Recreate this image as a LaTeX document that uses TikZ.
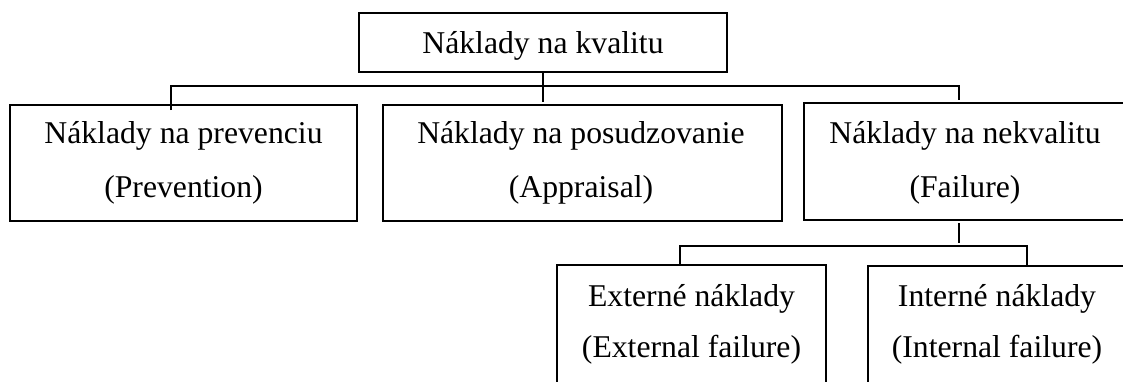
\documentclass[tikz,border=0pt]{standalone}
\usepackage{fontspec}
\setmainfont{Liberation Serif}
\begin{document}
\begin{tikzpicture}[x=1pt,y=-1pt,
  box/.style={draw=black, line width=1.8pt, rectangle, inner sep=0pt, outer sep=0pt},
  lbl/.style={anchor=base, inner sep=0pt, font=\fontsize{31.7}{38}\selectfont},
  conn/.style={draw=black, line width=1.8pt}]
\useasboundingbox (0,0) rectangle (1123,381);
% boxes
\node[box, minimum width=368pt, minimum height=59pt] (T) at (543,42.5) {};
\node[box, minimum width=347pt, minimum height=116pt] (B1) at (183.5,163) {};
\node[box, minimum width=399pt, minimum height=116pt] (B2) at (582.5,163) {};
\node[box, minimum width=323pt, minimum height=117pt] (B3) at (965.5,161.5) {};
\node[box, minimum width=269pt, minimum height=155pt] (B4) at (691.5,342.5) {};
\node[box, minimum width=259pt, minimum height=154pt] (B5) at (997.5,343) {};
% texts
\node[lbl] (tT) at (543,53) {Náklady na kvalitu};
\node[lbl] (t1a) at (183.5,143) {Náklady na prevenciu};
\node[lbl] (t1b) at (183.5,197) {(Prevention)};
\node[lbl] (t2a) at (581,143) {Náklady na posudzovanie};
\node[lbl] (t2b) at (581,197) {(Appraisal)};
\node[lbl] (t3a) at (965,143) {Náklady na nekvalitu};
\node[lbl] (t3b) at (965,197) {(Failure)};
\node[lbl] (t4a) at (691.5,306) {Externé náklady};
\node[lbl] (t4b) at (691.5,357) {(External failure)};
\node[lbl] (t5a) at (997,306) {Interné náklady};
\node[lbl] (t5b) at (997,357) {(Internal failure)};
% connector coordinates
\coordinate (tEnd) at (543,102);
\coordinate (busL) at (171,86);
\coordinate (busR) at (959,86);
\coordinate (l1) at (171,110);
\coordinate (r1) at (959,100);
\coordinate (f1) at (959,223);
\coordinate (f2) at (959,243);
\coordinate (bus2L) at (680,246);
\coordinate (bus2R) at (1027,246);
% connectors
\draw[conn] (T.south) -- (tEnd);
\draw[conn] (l1) -- (busL) -- (busR) -- (r1);
\draw[conn] (f1) -- (f2);
\draw[conn] (B4.north -| bus2L) -- (bus2L) -- (bus2R) -- (B5.north -| bus2R);
\end{tikzpicture}
\end{document}
